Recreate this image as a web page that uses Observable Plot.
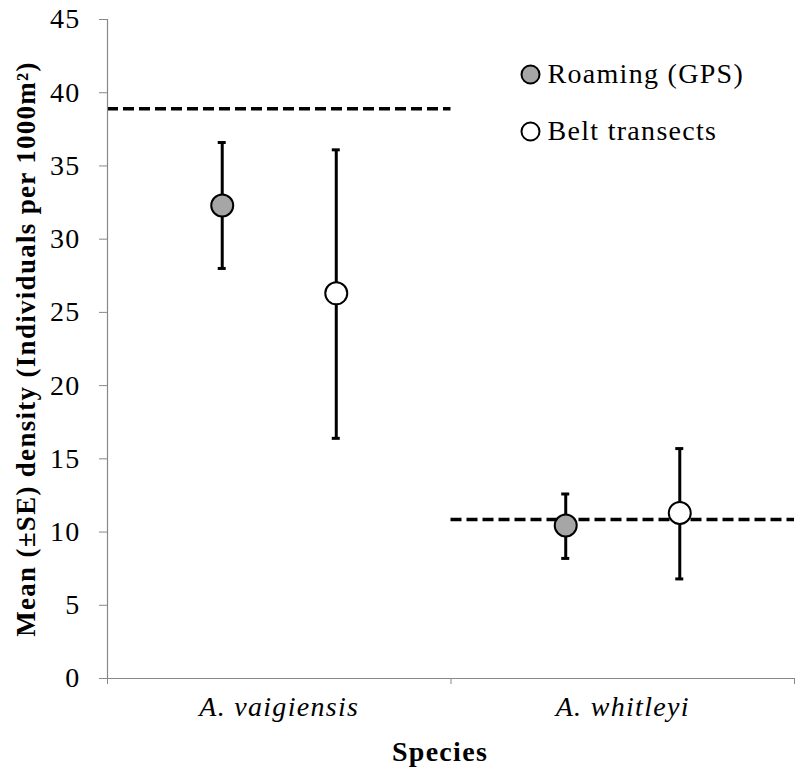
<!DOCTYPE html>
<html><head><meta charset="utf-8">
<script src="https://cdn.jsdelivr.net/npm/d3@7"></script>
<script src="https://cdn.jsdelivr.net/npm/@observablehq/plot@0.6"></script>
<style>
html,body{margin:0;background:#fff;overflow:hidden}
#chart svg text{font-family:"Liberation Serif","Times New Roman",serif;letter-spacing:1.3px}
</style>
</head><body><div id="chart"></div>
<script>
const species = ["A. vaigiensis", "A. whitleyi"];
const methods = ["Roaming (GPS)", "Belt transects"];
const roamingMean = [32.3, 10.45];
const roamingLow  = [28.0, 8.2];
const roamingHigh = [36.6, 12.6];
const beltMean = [26.3, 11.3];
const beltLow  = [16.4, 6.8];
const beltHigh = [36.1, 15.7];
const overallDensity = [38.9, 10.85];
const yTicks = [0, 5, 10, 15, 20, 25, 30, 35, 40, 45];
const yLabel = "Mean (±SE) density (Individuals per 1000m²)";
const xLabel = "Species";

const W = 795, H = 771;
const mL = 107, mR = 1, mT = 19, mB = 93;
const offset = 0.166; // horizontal offset of each method within a band (band units)
const fills = ["#a6a6a6", "#ffffff"];

const rows = [];
species.forEach((s, i) => {
  rows.push({species: s, i, m: 0, method: methods[0], mean: roamingMean[i], low: roamingLow[i], high: roamingHigh[i]});
  rows.push({species: s, i, m: 1, method: methods[1], mean: beltMean[i], low: beltLow[i], high: beltHigh[i]});
});
const xpos = d => d.i + 0.5 + (d.m === 0 ? -offset : offset);
const overall = species.map((s, i) => ({species: s, i, value: overallDensity[i]}));
const xScalePx = (W - mL - mR) / 2;
const yScalePx = (H - mT - mB) / 45;
const capHalf = 4 / xScalePx;

// legend positions (data units)
const legendX = (530 - mL) / xScalePx;
const legendY = [45 - (74 - mT) / yScalePx, 45 - (131 - mT) / yScalePx];
const legendRows = methods.map((m, k) => ({method: m, k, y: legendY[k]}));

const fs = 28;
const chart = Plot.plot({
  width: W, height: H,
  marginLeft: mL, marginRight: mR, marginTop: mT, marginBottom: mB,
  x: {domain: [0, 2], axis: null},
  y: {domain: [0, 45], axis: null},
  marks: [
    Plot.ruleY(overall, {x1: d => d.i, x2: d => d.i + 1, y: "value", stroke: "#000", strokeWidth: 3.5, strokeDasharray: "11,5"}),
    Plot.ruleX([0], {stroke: "#888", strokeWidth: 1.2}),
    Plot.ruleY([0], {stroke: "#888", strokeWidth: 1.2}),
    Plot.axisY({ticks: yTicks, tickSize: 8, tickFormat: () => "", stroke: "#888", label: null}),
    Plot.text(yTicks, {x: 0, y: d => d, text: d => String(d), dx: -27, textAnchor: "end", lineAnchor: "middle", fontSize: fs, fill: "#000"}),
    Plot.axisX({ticks: [0, 1, 2], tickSize: 6, tickFormat: () => "", stroke: "#888", label: null}),
    Plot.text(species, {x: (d, i) => i + 0.5, y: 0, dy: 29, lineAnchor: "middle", fontSize: fs, fontStyle: "italic", fill: "#000"}),
    Plot.text([xLabel], {frameAnchor: "bottom", dx: -11, dy: 74, lineAnchor: "middle", fontSize: fs, fontWeight: "bold", fill: "#000"}),
    Plot.text([yLabel], {frameAnchor: "left", textAnchor: "middle", lineAnchor: "middle", rotate: -90, dx: -81, fontSize: 27, fontWeight: "bold", fill: "#000"}),
    Plot.ruleX(rows, {x: xpos, y1: "low", y2: "high", stroke: "#000", strokeWidth: 3}),
    Plot.ruleY(rows, {x1: d => xpos(d) - capHalf, x2: d => xpos(d) + capHalf, y: "high", stroke: "#000", strokeWidth: 3}),
    Plot.ruleY(rows, {x1: d => xpos(d) - capHalf, x2: d => xpos(d) + capHalf, y: "low", stroke: "#000", strokeWidth: 3}),
    Plot.dot(rows, {x: xpos, y: "mean", r: 11, fill: d => fills[d.m], stroke: "#000", strokeWidth: 2}),
    Plot.dot(legendRows, {x: legendX, y: "y", r: 9, fill: d => fills[d.k], stroke: "#000", strokeWidth: 2}),
    Plot.text(legendRows, {x: legendX, y: "y", text: "method", dx: 17, textAnchor: "start", lineAnchor: "middle", fontSize: fs, fill: "#000"})
  ]
});
document.getElementById("chart").appendChild(chart);
</script>
</body></html>
